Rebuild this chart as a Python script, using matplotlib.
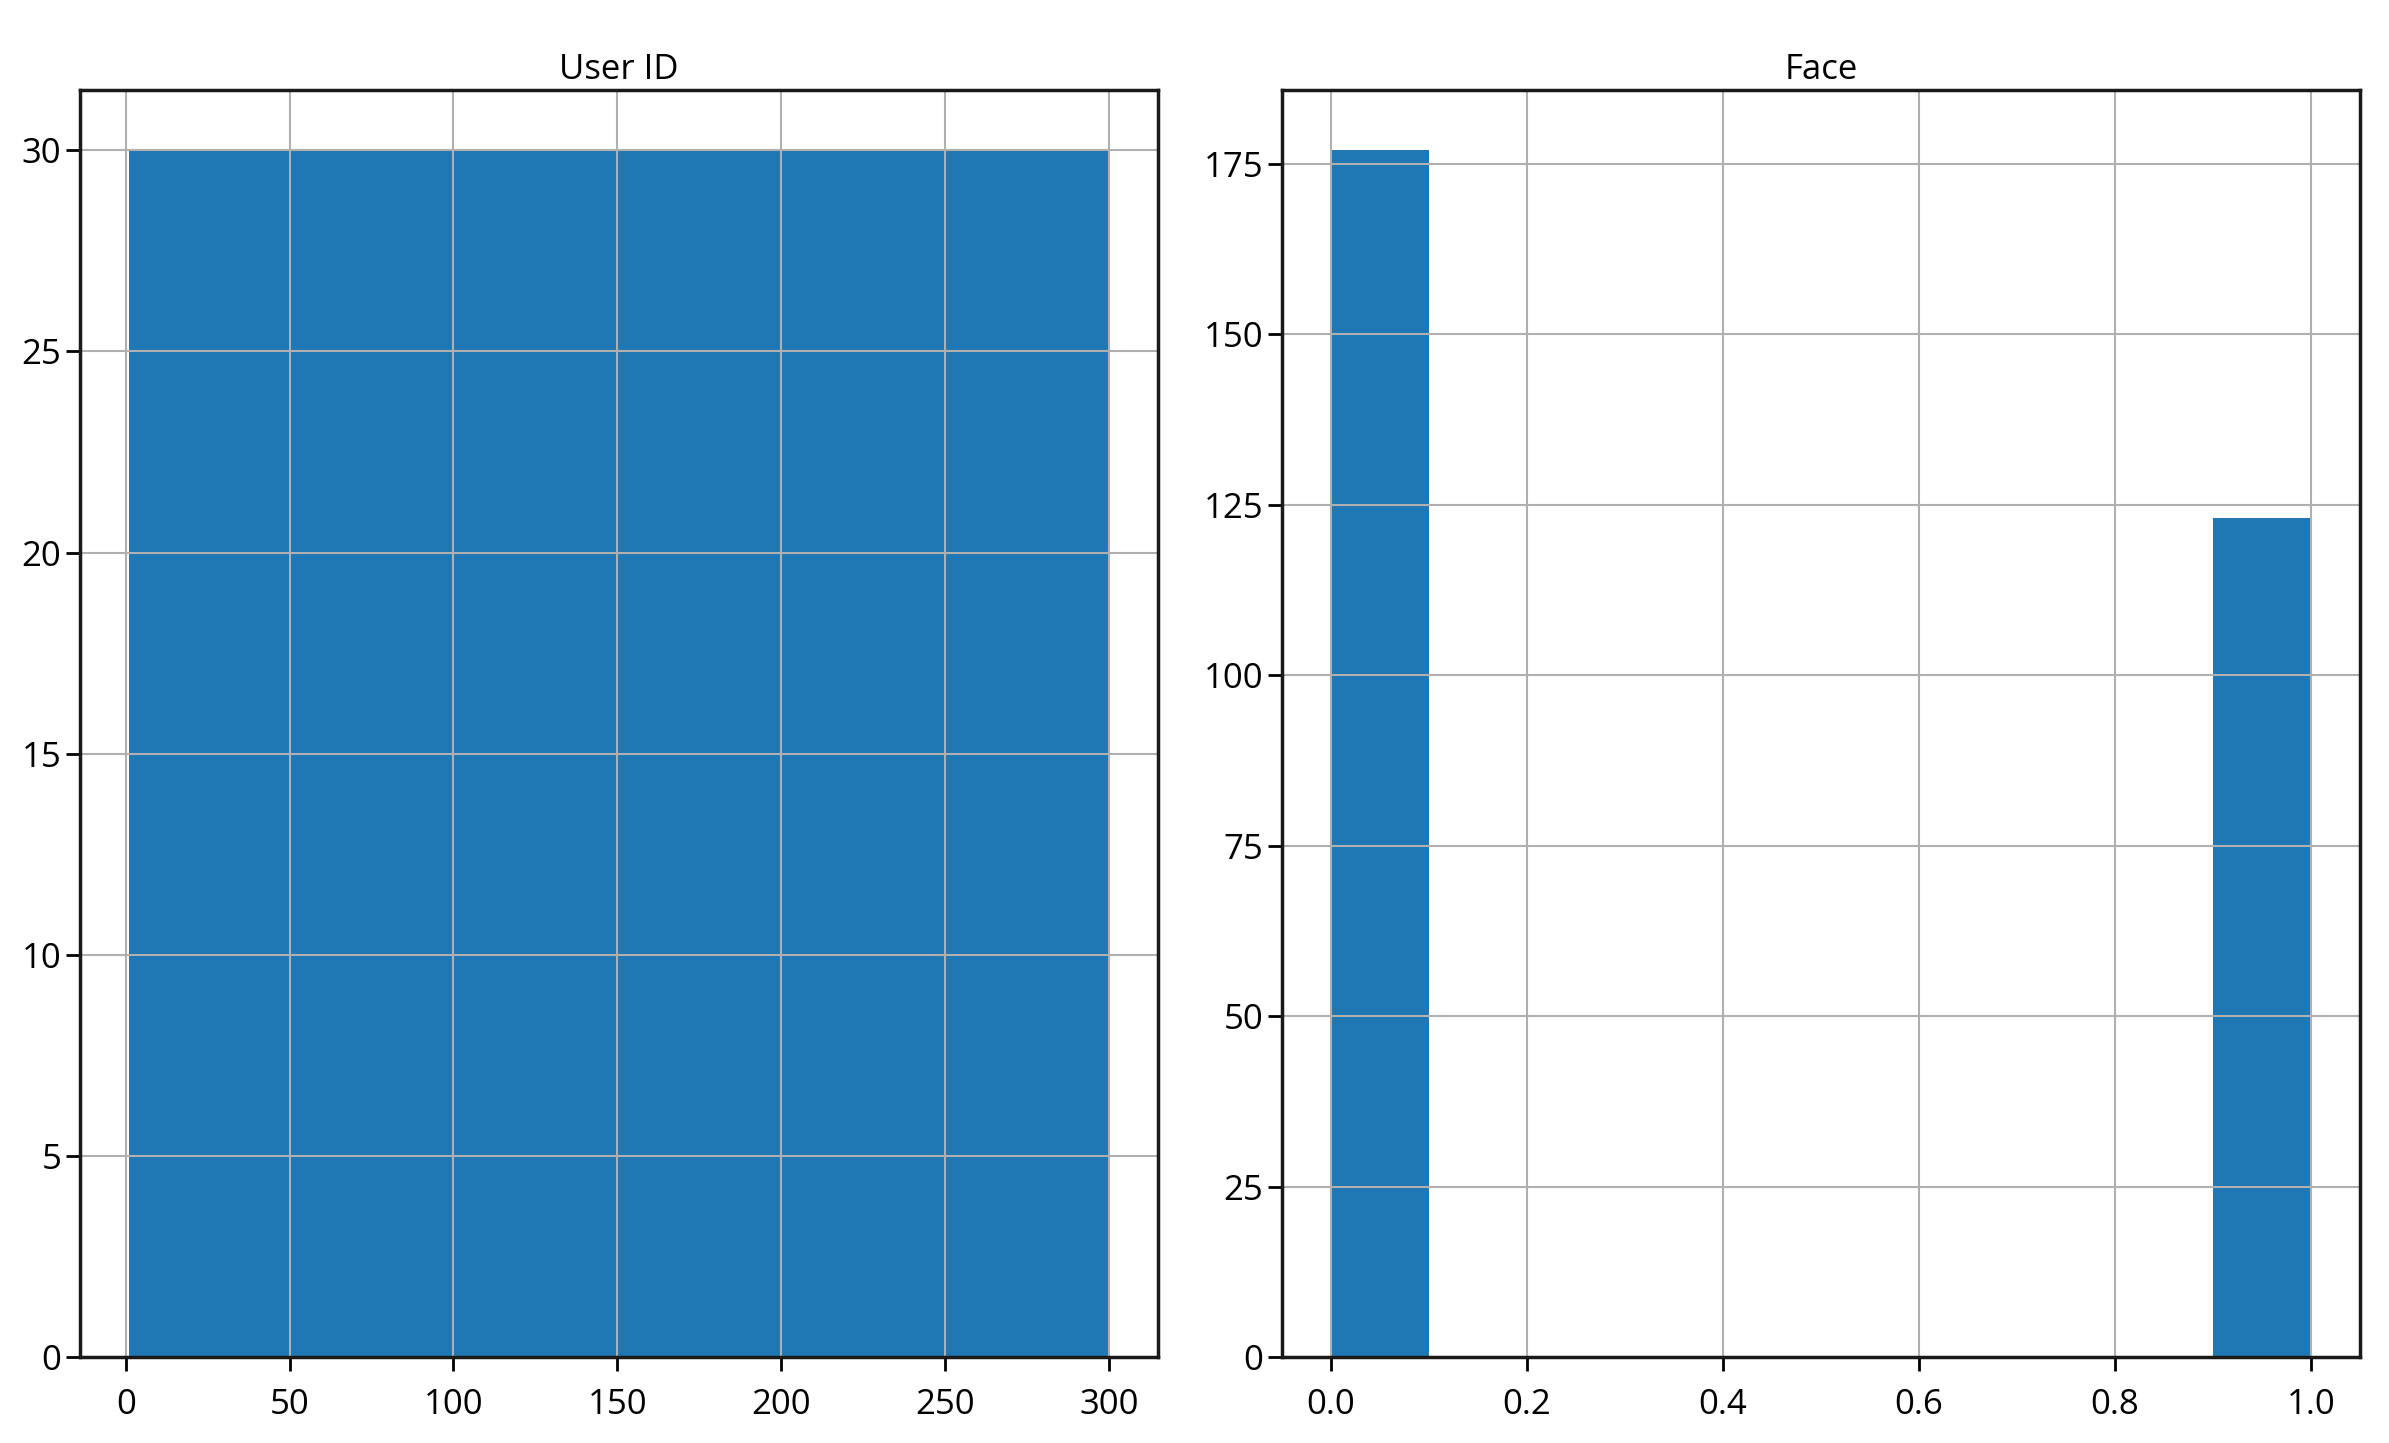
import numpy as np
import matplotlib
matplotlib.use("Agg")
from matplotlib import pyplot as plt

# histogram bins as pandas df.hist() gave them
user_id_edges = [1, 30.9, 60.8, 90.7, 120.6, 150.5, 180.4, 210.3, 240.2, 270.1, 300]
user_id_counts = [30, 30, 30, 30, 30, 30, 30, 30, 30, 30]

face_edges = [0.0, 0.1, 0.2, 0.3, 0.4, 0.5, 0.6, 0.7, 0.8, 0.9, 1.0]
face_counts = [177, 0, 0, 0, 0, 0, 0, 0, 0, 123]

titles = ["User ID", "Face"]

plt.rcParams['font.family'] = ['Open Sans', 'DejaVu Sans']

fig = plt.figure(figsize=(23.89, 14.43), dpi=100)
ax1 = fig.add_axes([0.0335, 0.0596, 0.4512, 0.878])
ax2 = fig.add_axes([0.5366, 0.0596, 0.4512, 0.878])

for ax, edges, counts, title in [(ax1, user_id_edges, user_id_counts, titles[0]),
                                  (ax2, face_edges, face_counts, titles[1])]:
    ax.hist(edges[:-1], bins=edges, weights=counts, color="#1f77b4")
    ax.grid(True, color="#b0b0b0", linewidth=1.5)
    ax.set_title(title, fontsize=25, pad=8)
    ax.tick_params(labelsize=25, length=10, width=2)
    ax.tick_params(axis="x", pad=12)
    for s in ax.spines.values():
        s.set_linewidth(2.5)
        s.set_color("#1a1a1a")

ax1.set_xticks([0, 50, 100, 150, 200, 250, 300])
ax1.set_yticks([0, 5, 10, 15, 20, 25, 30])
ax2.set_yticks([0, 25, 50, 75, 100, 125, 150, 175])

fig.savefig("out.png", dpi=100)
